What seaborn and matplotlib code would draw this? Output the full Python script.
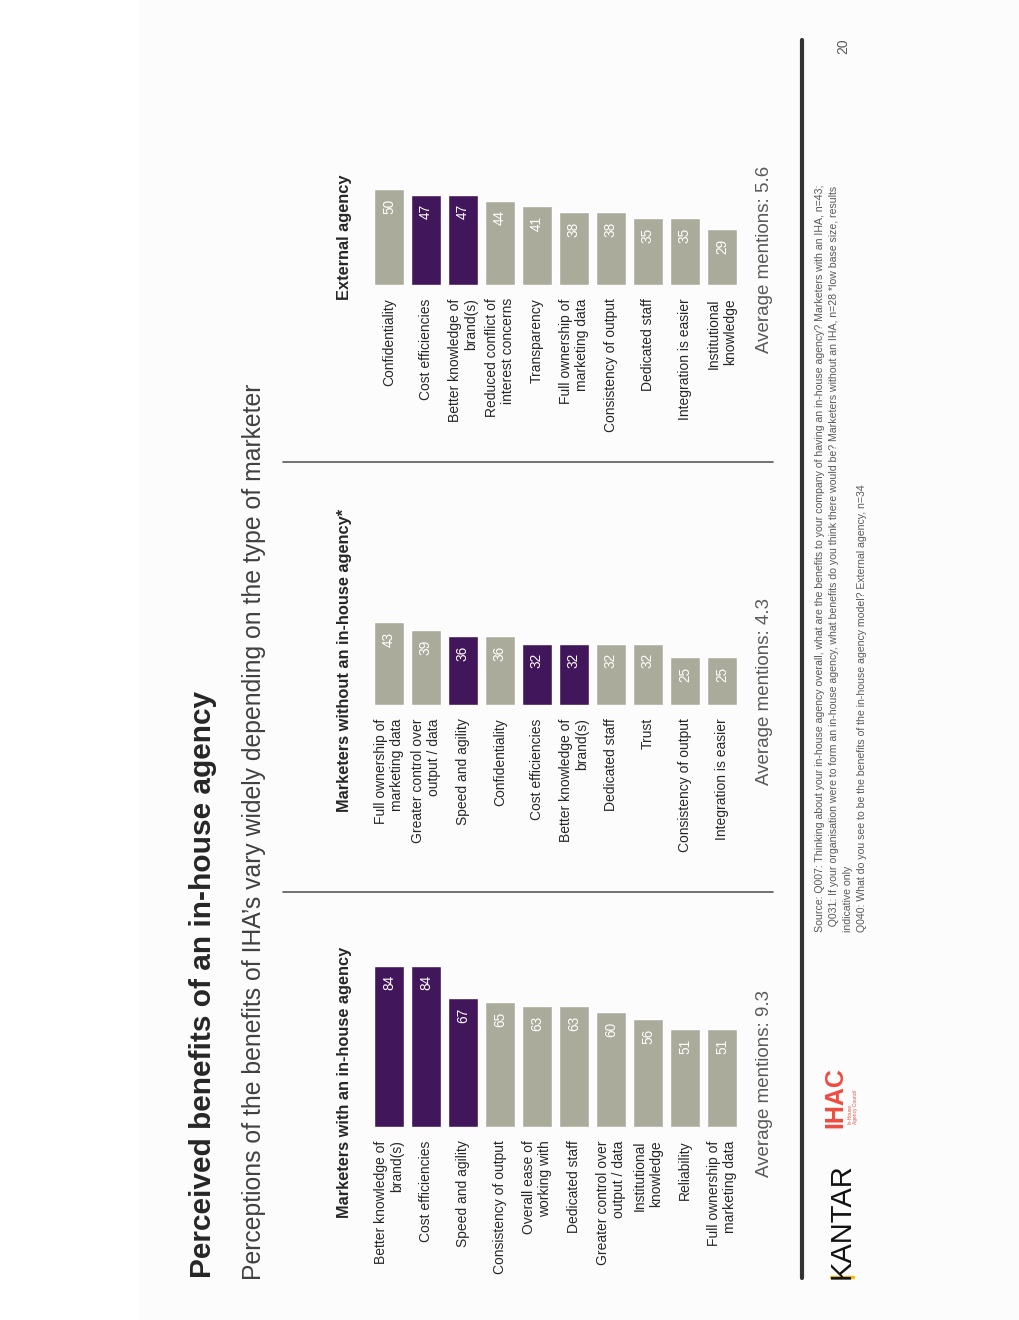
"""
    Perceived benefits of an in-house agency (rotated slide).
"""
import matplotlib
matplotlib.use('Agg')  # Agg backend for file-based rendering
import matplotlib.pyplot as plt
from matplotlib.lines import Line2D
from matplotlib.patches import Rectangle
import seaborn as sb
import pandas as pd

W, H = 1020, 1320

PURPLE = "#42165a"
GREY = "#abab9c"
TEXT = "#262626"
SOFT = "#595959"

# Data
with_iha_labels = ["Better knowledge of\nbrand(s)", "Cost efficiencies", "Speed and agility",
                   "Consistency of output", "Overall ease of\nworking with", "Dedicated staff",
                   "Greater control over\noutput / data", "Institutional\nknowledge", "Reliability",
                   "Full ownership of\nmarketing data"]
with_iha_values = [84, 84, 67, 65, 63, 63, 60, 56, 51, 51]

without_iha_labels = ["Full ownership of\nmarketing data", "Greater control over\noutput / data",
                      "Speed and agility", "Confidentiality", "Cost efficiencies",
                      "Better knowledge of\nbrand(s)", "Dedicated staff", "Trust",
                      "Consistency of output", "Integration is easier"]
without_iha_values = [43, 39, 36, 36, 32, 32, 32, 32, 25, 25]

external_labels = ["Confidentiality", "Cost efficiencies", "Better knowledge of\nbrand(s)",
                   "Reduced conflict of\ninterest concerns", "Transparency",
                   "Full ownership of\nmarketing data", "Consistency of output", "Dedicated staff",
                   "Integration is easier", "Institutional\nknowledge"]
external_values = [50, 47, 47, 44, 41, 38, 38, 35, 35, 29]

highlighted = ["Better knowledge of\nbrand(s)", "Cost efficiencies", "Speed and agility"]

panel_titles = ["Marketers with an in-house agency", "Marketers without an in-house agency*", "External agency"]
average_mentions = [9.3, 4.3, 5.6]

footnote = ("Source: Q007: Thinking about your in-house agency overall, what are the benefits to your company of having an in-house agency? Marketers with an IHA, n=43;\n"
            "  Q031: If your organisation were to form an in-house agency, what benefits do you think there would be? Marketers without an IHA, n=28 *low base size, results\n"
            "indicative only\n"
            "Q040: What do you see to be the benefits of the in-house agency model? External agency, n=34")


def fx(x):
    return x / W


def fy(y):
    return 1 - y / H


def draw_panel(fig, labels, values, baseline, title, title_y, avg, avg_y):
    ax = fig.add_axes([fx(370.5), fy(baseline), 370 / W, 192 / H])
    df = pd.DataFrame({"benefit": labels, "share": values})
    colors = [PURPLE if label in highlighted else GREY for label in labels]

    sb.barplot(data=df, x="benefit", y="share", hue="benefit", palette=colors, legend=False,
               width=0.8, saturation=1, ax=ax)

    for i, v in enumerate(values):
        ax.text(i, v - 5, str(v), rotation=90, ha="center", va="top", color="white", fontsize=9.8)

    ax.set_xlim(-0.5, len(values) - 0.5)
    ax.set_ylim(0, 100)
    ax.set_xticks(range(len(labels)))
    ax.set_xticklabels(labels, rotation=90, fontsize=10, color=TEXT, multialignment="right")
    ax.tick_params(axis="x", length=0, pad=9.5)
    ax.set_yticks([])
    ax.set_xlabel("")
    ax.set_ylabel("")
    ax.set_facecolor("none")
    sb.despine(ax=ax, left=True, bottom=True)

    fig.text(fx(345), fy(title_y), title, rotation=90, ha="center", va="bottom",
             fontsize=11.8, fontweight="bold", color=TEXT)
    fig.text(fx(765), fy(avg_y), f"Average mentions: {avg}", rotation=90, ha="center", va="bottom",
             fontsize=13.5, color=SOFT)


sb.set_style("white")
plt.rcParams['font.family'] = ['Liberation Sans', 'DejaVu Sans']

fig = plt.figure(figsize=(W / 100, H / 100), dpi=100, facecolor="white")

# Slide background
fig.add_artist(Rectangle((fx(138), 0), 1 - fx(138), 1, transform=fig.transFigure,
                         facecolor="#fcfcfc", edgecolor="none", zorder=-10))

# Title block
fig.text(fx(203), fy(1278), "Perceived benefits of an in-house agency", rotation=90, ha="center",
         va="bottom", fontsize=21.5, fontweight="bold", color=TEXT)
fig.text(fx(254), fy(1280), "Perceptions of the benefits of IHA\u2019s vary widely depending on the type of marketer",
         rotation=90, ha="center", va="bottom", fontsize=17.8, color="#404040")

# Panels
draw_panel(fig, with_iha_labels, with_iha_values, 1127, panel_titles[0], 1218, average_mentions[0], 1177)
draw_panel(fig, without_iha_labels, without_iha_values, 705, panel_titles[1], 812, average_mentions[1], 785)
draw_panel(fig, external_labels, external_values, 285, panel_titles[2], 300, average_mentions[2], 353)

# Separators
for y in [892, 462]:
    fig.add_artist(Line2D([fx(283), fx(773)], [fy(y), fy(y)], color=SOFT, linewidth=1.2,
                          transform=fig.transFigure))
fig.add_artist(Line2D([fx(802), fx(802)], [fy(40), fy(1278)], color="#333333", linewidth=3,
                      transform=fig.transFigure))

# Footnote and page number
fig.text(fx(815), fy(932), footnote, rotation=90, ha="left", va="bottom", fontsize=7.6,
         color=SOFT, linespacing=1.5, multialignment="left")
fig.text(fx(843), fy(46), "20", rotation=90, ha="center", va="center", fontsize=10, color=SOFT)

# Logos
fig.text(fx(842), fy(1279), "KANTAR", rotation=90, ha="center", va="bottom", fontsize=21, color="#111111")
fig.add_artist(Line2D([fx(831), fx(853)], [fy(1277), fy(1277)], color="#f2c100", linewidth=2.5,
                      transform=fig.transFigure))
fig.text(fx(835), fy(1128), "IHAC", rotation=90, ha="center", va="bottom", fontsize=18,
         fontweight="bold", color="#ef4b40")
fig.text(fx(853), fy(1124), "In-House\nAgency Council", rotation=90, ha="center", va="bottom",
         fontsize=3.5, color="#ef4b40", multialignment="left")

plt.savefig("out.png", dpi=100, facecolor=fig.get_facecolor())
plt.close()
